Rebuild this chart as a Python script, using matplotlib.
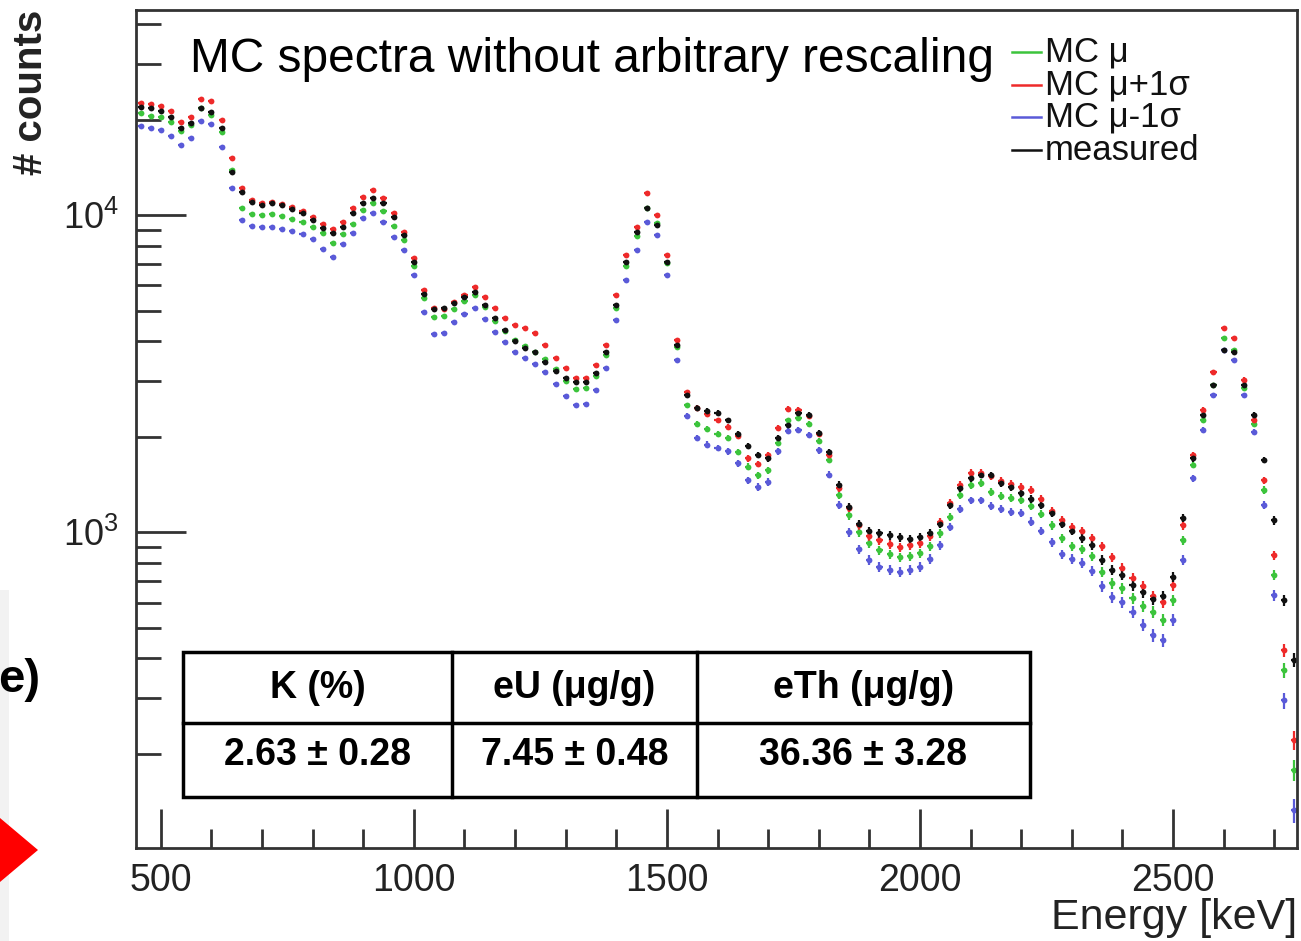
import numpy as np
import matplotlib.pyplot as plt
from matplotlib.ticker import LogLocator, MultipleLocator, NullFormatter, FixedLocator
from matplotlib.patches import Polygon, Rectangle
from matplotlib.lines import Line2D

plt.rcParams['font.family'] = ['Liberation Sans', 'DejaVu Sans']
plt.rcParams['mathtext.fontset'] = 'custom'
plt.rcParams['mathtext.rm'] = 'Liberation Sans'

W, H = 1301, 941

# bin centres [keV]
energy = np.arange(460, 2741, 20)

# MC mu (green)
mc_mu = [21000, 20520, 20370, 19650, 18400, 19220, 21750, 20660, 18260, 13870,
         10530, 10070, 10000, 10070, 9930, 9720, 9510, 9170, 8780, 8170,
         8710, 9370, 10370, 10910, 10300, 9230, 8340, 6910, 5480, 4770,
         4800, 5050, 5360, 5600, 5120, 4630, 4310, 4030, 3860, 3700,
         3520, 3270, 3000, 2820, 2840, 3110, 3620, 5090, 6910, 8590,
         10530, 9440, 7060, 3840, 2510, 2190, 2110, 2040, 1980, 1790,
         1610, 1510, 1570, 1910, 2250, 2290, 2190, 1940, 1690, 1310,
         1130, 1000, 924, 877, 852, 834, 840, 858, 904, 993,
         1120, 1310, 1410, 1430, 1340, 1300, 1280, 1260, 1210, 1140,
         1050, 958, 904, 883, 840, 748, 690, 665, 619, 584,
         560, 528, 610, 944, 1630, 2250, 2910, 4090, 3750, 2840,
         2200, 1360, 732, 367, 178]

# MC mu + 1 sigma (red)
mc_plus = [22600, 22400, 22080, 21280, 19650, 20370, 23250, 22900, 19930, 15130,
           12180, 11150, 10910, 10990, 10840, 10600, 10300, 9860, 9370, 9040,
           9510, 10530, 11400, 12000, 11320, 10150, 8840, 7320, 5800, 5090,
           5050, 5320, 5600, 5930, 5520, 5090, 4730, 4500, 4400, 4240,
           3890, 3540, 3290, 3060, 3060, 3360, 3890, 5600, 7480, 9170,
           11740, 10000, 7480, 4030, 2760, 2460, 2360, 2250, 2140, 2010,
           1710, 1640, 1750, 2130, 2450, 2430, 2320, 2040, 1750, 1380,
           1190, 1050, 972, 944, 917, 897, 910, 924, 972, 1075,
           1240, 1410, 1540, 1540, 1500, 1450, 1420, 1390, 1360, 1270,
           1170, 1090, 1040, 1010, 958, 904, 834, 770, 717, 675,
           628, 601, 680, 1050, 1750, 2430, 3200, 4400, 4090, 3020,
           2250, 1460, 846, 424, 221]

# MC mu - 1 sigma (blue)
mc_minus = [19080, 18810, 18530, 17740, 16610, 17490, 19790, 19360, 16380, 12180,
            9650, 9230, 9170, 9170, 9040, 8910, 8710, 8400, 7820, 7370,
            8110, 8780, 9790, 10150, 9510, 8530, 7760, 6470, 4940, 4210,
            4250, 4600, 4870, 5090, 4700, 4280, 3970, 3700, 3540, 3390,
            3200, 2930, 2680, 2510, 2530, 2800, 3290, 4660, 6240, 7760,
            9510, 8650, 6470, 3490, 2320, 1980, 1890, 1840, 1800, 1650,
            1460, 1390, 1440, 1800, 2080, 2100, 2020, 1810, 1520, 1220,
            1000, 883, 816, 776, 759, 748, 759, 776, 822, 910,
            1040, 1180, 1260, 1260, 1210, 1180, 1160, 1150, 1080, 1010,
            930, 852, 822, 799, 754, 675, 624, 601, 560, 509,
            473, 456, 528, 816, 1480, 2100, 2700, 3750, 3490, 2700,
            2070, 1220, 633, 295, 133]

# measured (black)
measured = [21900, 21750, 21280, 20370, 18810, 19500, 21750, 21120, 18810, 13670,
            11830, 10990, 10760, 10910, 10760, 10450, 10150, 9650, 9100, 8780,
            9170, 10150, 10910, 11320, 10910, 9860, 8650, 7110, 5640, 5050,
            5090, 5280, 5520, 5720, 5200, 4730, 4340, 4000, 3810, 3700,
            3440, 3220, 3060, 2980, 2980, 3170, 3700, 5200, 7110, 8840,
            10530, 9300, 7110, 3890, 2700, 2460, 2410, 2380, 2250, 2040,
            1870, 1750, 1710, 1980, 2170, 2380, 2340, 2050, 1790, 1410,
            1200, 1060, 1010, 993, 979, 965, 951, 965, 993, 1060,
            1220, 1380, 1480, 1520, 1510, 1430, 1390, 1330, 1270, 1220,
            1150, 1060, 1010, 958, 910, 816, 759, 732, 680, 647,
            615, 628, 721, 1110, 1710, 2340, 2910, 3750, 3700, 2910,
            2340, 1690, 1090, 610, 395]

series = [
    ('MC \u03bc', mc_mu, '#3cc43c'),
    ('MC \u03bc+1\u03c3', mc_plus, '#ee2a2a'),
    ('MC \u03bc-1\u03c3', mc_minus, '#5a5ad8'),
    ('measured', measured, '#111111'),
]

table_headers = ['K (%)', 'eU (\u03bcg/g)', 'eTh (\u03bcg/g)']
table_values = ['2.63 \u00b1 0.28', '7.45 \u00b1 0.48', '36.36 \u00b1 3.28']


def px(x, y):
    return (x / W, 1 - y / H)


fig = plt.figure(figsize=(W / 100, H / 100), dpi=100)
ax = fig.add_axes([135.5 / W, 1 - 848 / H, (1297 - 135.5) / W, (848 - 10) / H])

# draw order: green, red, blue, black
for name, vals, col in series:
    vals = np.array(vals, dtype=float)
    ax.errorbar(energy, vals, yerr=np.sqrt(vals), xerr=6, fmt='o', ms=4.2,
                mew=0, elinewidth=1.6, color=col, capsize=0)

ax.set_yscale('log')
ax.set_xlim(450, 2745)
ax.set_ylim(101, 44300)

ax.xaxis.set_major_locator(MultipleLocator(500))
ax.xaxis.set_minor_locator(MultipleLocator(100))
ax.yaxis.set_major_locator(FixedLocator([1e3, 1e4]))
ax.yaxis.set_minor_locator(LogLocator(base=10, subs=range(2, 10), numticks=20))
ax.yaxis.set_minor_formatter(NullFormatter())

ax.tick_params(axis='x', which='major', direction='in', length=28, width=2,
               labelsize=27, pad=11, color='#333333', labelcolor='#222222')
ax.tick_params(axis='x', which='minor', direction='in', length=14, width=2,
               color='#333333')
ax.tick_params(axis='y', which='major', direction='in', length=36, width=2,
               labelsize=26, pad=12, color='#333333', labelcolor='#222222')
ax.tick_params(axis='y', which='minor', direction='in', length=18, width=2,
               color='#333333')
ax.tick_params(top=False, right=False, which='both')
for sp in ax.spines.values():
    sp.set_linewidth(2)
    sp.set_color('#333333')

# title inside the frame
fig.text(*px(190, 60), 'MC spectra without arbitrary rescaling', fontsize=34.5,
         ha='left', va='center', color='black')

# legend
leg_y = [52, 85, 117, 150]
for (name, vals, col), yy in zip(series, leg_y):
    x0, y0 = px(1012, yy)
    x1, _ = px(1041, yy)
    fig.add_artist(Line2D([x0, x1], [y0, y0], color=col, lw=1.8,
                          transform=fig.transFigure))
    fig.text(*px(1045, yy), name, fontsize=25, ha='left', va='center',
             color='#111111')

# axis labels
fig.text(*px(1297, 918), 'Energy [keV]', fontsize=31, ha='right', va='center',
         color='#222222')
fig.text(*px(31, 92), '# counts', fontsize=29, fontweight='bold', rotation=90,
         ha='center', va='center', color='#222222')

# results table
tx0, tx1, tcols = 183, 1030, [452, 697]
ty0, ty1, trow = 652, 797, 723
fig.add_artist(Rectangle(px(tx0, ty1), (tx1 - tx0) / W, (ty1 - ty0) / H,
                         transform=fig.transFigure, facecolor='white',
                         edgecolor='black', lw=2.5))
for cx in tcols:
    fig.add_artist(Line2D([cx / W, cx / W], [1 - ty0 / H, 1 - ty1 / H],
                          color='black', lw=2.5, transform=fig.transFigure))
fig.add_artist(Line2D([tx0 / W, tx1 / W], [1 - trow / H, 1 - trow / H],
                      color='black', lw=2.5, transform=fig.transFigure))
edges = [tx0] + tcols + [tx1]
for i in range(3):
    cx = (edges[i] + edges[i + 1]) / 2
    fig.text(*px(cx, 688), table_headers[i], fontsize=27, fontweight='bold',
             ha='center', va='center')
    fig.text(*px(cx, 755), table_values[i], fontsize=27, fontweight='bold',
             ha='center', va='center')

# slide remnants on the left
fig.add_artist(Rectangle(px(0, 941), 9 / W, 351 / H, transform=fig.transFigure,
                         facecolor='#f2f2f2', edgecolor='none', zorder=0))
fig.text(*px(40, 680), 'e)', fontsize=34, fontweight='bold', ha='right',
         va='center')
fig.add_artist(Polygon([px(0, 818), px(38, 850), px(0, 882)], closed=True,
                       transform=fig.transFigure, facecolor='#ff0000',
                       edgecolor='none'))

fig.savefig('out.png', dpi=100)
